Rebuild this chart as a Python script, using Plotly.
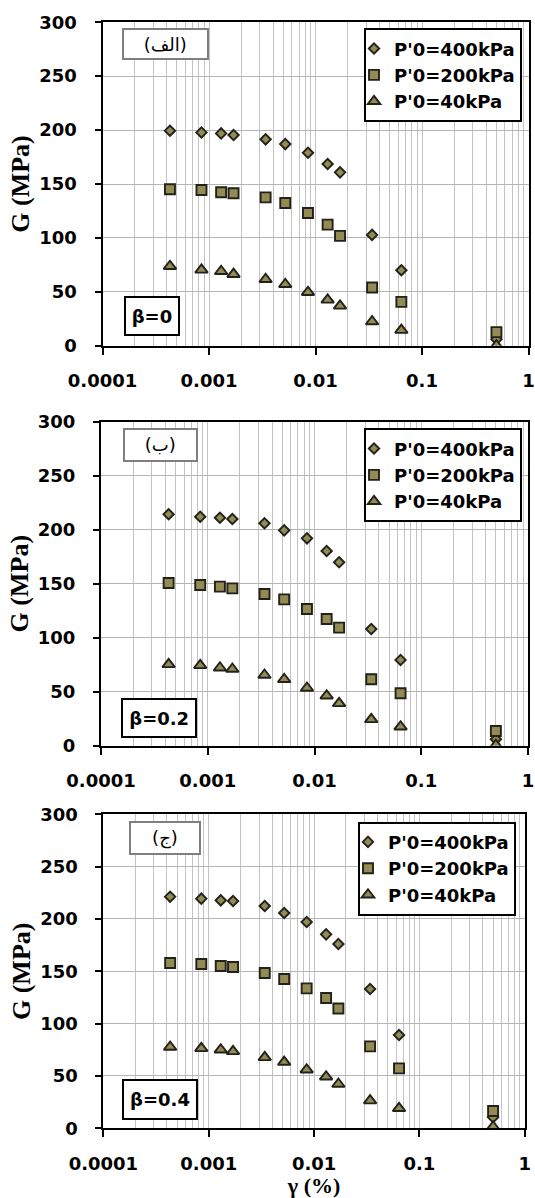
import plotly.graph_objects as go

# ---------------- data ----------------
gamma = [0.00043, 0.00085, 0.0013, 0.0017, 0.0034, 0.0052, 0.0085, 0.013, 0.017, 0.034, 0.064, 0.5]

series_names = ["P'0=400kPa", "P'0=200kPa", "P'0=40kPa"]

g_beta00_400 = [199.4, 197.8, 196.9, 195.4, 191.4, 187.0, 179.0, 168.5, 160.8, 102.8, 70.0, 6.0]
g_beta00_200 = [145.1, 144.4, 142.3, 141.4, 137.6, 132.4, 123.1, 112.3, 101.9, 54.0, 40.7, 12.7]
g_beta00_40 = [73.8, 70.4, 69.1, 66.4, 61.7, 57.1, 49.7, 42.6, 37.0, 22.5, 14.5, 0.3]

g_beta02_400 = [214.3, 212.0, 211.1, 209.9, 205.9, 199.4, 192.0, 180.3, 169.8, 108.0, 79.4, 6.0]
g_beta02_200 = [150.6, 148.8, 147.3, 145.7, 140.5, 135.5, 126.6, 117.3, 109.3, 61.5, 48.5, 13.6]
g_beta02_40 = [75.3, 74.4, 72.2, 71.0, 65.5, 61.5, 53.4, 46.3, 39.2, 24.4, 17.6, 0.5]

g_beta04_400 = [221.3, 219.4, 217.8, 217.2, 212.4, 205.7, 197.1, 185.3, 176.1, 133.1, 89.1, 10.5]
g_beta04_200 = [157.9, 157.0, 155.1, 154.1, 148.4, 142.6, 133.7, 124.5, 114.5, 78.3, 57.3, 16.5]
g_beta04_40 = [77.7, 76.4, 75.1, 73.5, 67.8, 63.3, 56.0, 49.3, 42.3, 26.4, 19.1, 1.5]

panel_data = [
    [g_beta00_400, g_beta00_200, g_beta00_40],
    [g_beta02_400, g_beta02_200, g_beta02_40],
    [g_beta04_400, g_beta04_200, g_beta04_40],
]

y_tickvals = [0, 50, 100, 150, 200, 250, 300]
y_ticktext = ["0", "50", "100", "150", "200", "250", "300"]

panel_labels = ["(الف)", "(ب)", "(ج)"]
beta_labels = ["β=0", "β=0.2", "β=0.4"]
y_title = "G (MPa)"
x_title = "γ (%)"

# ---------------- layout geometry (pixels) ----------------
W, H = 535, 1198
# plot areas: (left, right, top, bottom)
panels_px = [
    (102.5, 528.5, 22.2, 345.8),
    (101.0, 528.0, 421.7, 745.7),
    (103.4, 524.8, 814.3, 1128.3),
]
legend_px = [(522.0, 28.3), (522.0, 428.3), (516.0, 821.7)]       # right, top
label_box_px = [(165.1, 44.3, 84.6, 30.0), (160.9, 445.2, 72.7, 31.7), (164.7, 837.9, 69.9, 32.3)]
beta_box_px = [(151.5, 315.9, 53.9, 38.3), (159.0, 717.5, 74.4, 38.4), (159.9, 1099.5, 74.1, 39.0)]

def px(x):
    return x / W

def py(y):
    return 1 - y / H

symbols = ["diamond", "square", "triangle-up"]
sizes = [8, 10, 11]
fill = "#948A54"
edge = "#22221a"

tick_font = dict(family="DejaVu Sans", size=18, color="black", weight="bold")

fig = go.Figure()
layout = dict(
    width=W, height=H,
    margin=dict(l=0, r=0, t=0, b=0),
    paper_bgcolor="white", plot_bgcolor="white",
    template="none",
    showlegend=True,
    annotations=[],
)

for i in range(3):
    sfx = "" if i == 0 else str(i + 1)
    leg = "legend" + sfx
    for j in range(3):
        fig.add_trace(go.Scatter(
            x=gamma, y=panel_data[i][j], mode="markers", name=series_names[j],
            xaxis="x" + sfx, yaxis="y" + sfx, legend=leg,
            marker=dict(symbol=symbols[j], size=sizes[j], color=fill,
                        line=dict(color=edge, width=1.9)),
        ))
    l, r, t, b = panels_px[i]
    layout["xaxis" + sfx] = dict(
        type="log", range=[-4, 0], domain=[px(l), px(r)], anchor="y" + sfx,
        tickmode="linear", tick0=0, dtick=1, exponentformat="none",
        tickfont=tick_font,
        ticks="outside", ticklen=7, tickwidth=2, tickcolor="black",
        ticklabelstandoff=11, ticklabeloverflow="allow",
        showline=True, linecolor="black", linewidth=2, mirror=True,
        showgrid=True, gridcolor="#c3c3c3", gridwidth=1,
        minor=dict(dtick="D1", showgrid=True, gridcolor="#c3c3c3", gridwidth=1, ticks=""),
        zeroline=False, automargin=False, fixedrange=True,
        title=dict(text=x_title if i == 2 else "",
                   font=dict(family="Liberation Serif", size=22, color="black", weight="bold"),
                   standoff=3),
    )
    layout["yaxis" + sfx] = dict(
        range=[0, 300], domain=[py(b), py(t)], anchor="x" + sfx,
        tickvals=y_tickvals, ticktext=y_ticktext, tickfont=tick_font,
        ticks="outside", ticklen=6, tickwidth=1.5, tickcolor="black",
        ticklabelstandoff=14,
        showline=True, linecolor="black", linewidth=2, mirror=True,
        showgrid=True, gridcolor="#b5b5b5", gridwidth=1.3,
        zeroline=False, automargin=False, fixedrange=True,
        title=dict(text=y_title,
                   font=dict(family="Liberation Serif", size=26, color="black", weight="bold"),
                   standoff=2),
    )
    lr, lt = legend_px[i]
    layout[leg] = dict(
        x=px(lr), xanchor="right", y=py(lt), yanchor="top",
        bgcolor="white", bordercolor="black", borderwidth=2,
        font=dict(family="DejaVu Sans", size=18, color="black", weight="bold"),
        itemsizing="trace", tracegroupgap=0, indentation=-12,
    )
    cx, cy, bw, bh = label_box_px[i]
    layout["annotations"].append(dict(
        xref="paper", yref="paper", x=px(cx), y=py(cy), xanchor="center", yanchor="middle",
        text=panel_labels[i], showarrow=False,
        font=dict(family="DejaVu Sans", size=18, color="black"),
        bgcolor="white", bordercolor="#7f7f7f", borderwidth=2, borderpad=0,
        width=bw - 2, height=bh - 2,
    ))
    cx, cy, bw, bh = beta_box_px[i]
    layout["annotations"].append(dict(
        xref="paper", yref="paper", x=px(cx), y=py(cy), xanchor="center", yanchor="middle",
        text=beta_labels[i], showarrow=False,
        font=dict(family="DejaVu Sans", size=18, color="black", weight="bold"),
        bgcolor="white", bordercolor="black", borderwidth=2, borderpad=0,
        width=bw - 2, height=bh - 2,
    ))

fig.update_layout(**layout)
fig.write_html("out.html")
